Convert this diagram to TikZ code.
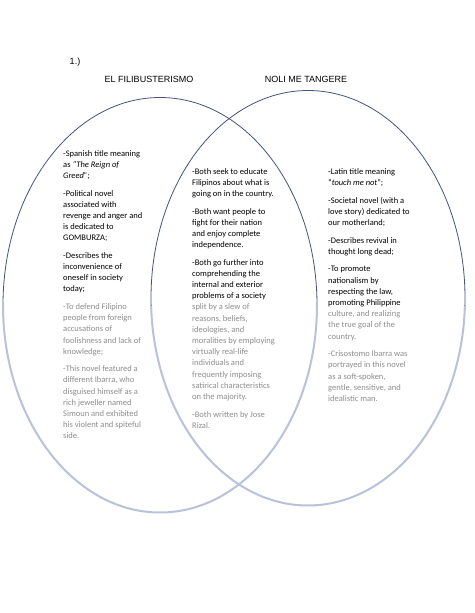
\documentclass[tikz,border=0pt]{standalone}
\usepackage{fontspec}
\setmainfont{Carlito}
\newfontfamily\arialfont{Liberation Sans}
\definecolor{ringdark}{HTML}{46527E}
\definecolor{ringlight}{HTML}{BAC1DA}
\definecolor{blurtext}{HTML}{8E8E8E}
\newcommand{\bl}[1]{\textcolor{blurtext}{#1}}
\begin{document}
\begin{tikzpicture}[x=1pt,y=-1pt,
  coltext/.style={anchor=north west,inner sep=0pt,align=left,font=\fontsize{8.5}{11.2}\selectfont},
  titletext/.style={inner sep=0pt,font=\arialfont\fontsize{9}{11}\selectfont},
  ringtop/.style={draw=ringdark,line width=0.8pt},
  ringbot/.style={draw=ringlight,line width=2pt}]
\useasboundingbox (0,0) rectangle (474,613);
\fill[white] (0,0) rectangle (474,613);
% ellipses
\coordinate (lc) at (160,305);
\coordinate (rc) at (308,298);
\draw[ringbot] ([xshift=-157pt]lc) arc[start angle=180,end angle=360,x radius=157pt,y radius=207.5pt];
\draw[ringbot] ([shift={(182.2:157pt and 207.5pt)}]rc) arc[start angle=182.2,end angle=357.8,x radius=157pt,y radius=207.5pt];
\draw[ringtop] ([xshift=157pt]lc) arc[start angle=0,end angle=180,x radius=157pt,y radius=207.5pt];
\draw[ringtop] ([shift={(-2.2:157pt and 207.5pt)}]rc) arc[start angle=-2.2,end angle=182.2,x radius=157pt,y radius=207.5pt];
% titles
\node[titletext] (num) at (75,62) {1.)};
\node[titletext] (elfili) at (149,79) {EL FILIBUSTERISMO};
\node[titletext] (noli) at (306,79) {NOLI ME TANGERE};
% left column
\node[coltext] (leftcol) at (63,150) {%
-Spanish title meaning\\
as \textit{“The Reign of}\\
\textit{Greed”};\\[6.3pt]
-Political novel\\
associated with\\
revenge and anger and\\
is dedicated to\\
GOMBURZA;\\[6.3pt]
-Describes the\\
inconvenience of\\
oneself in society\\
today;\\[6.3pt]
\bl{-To defend Filipino}\\
\bl{people from foreign}\\
\bl{accusations of}\\
\bl{foolishness and lack of}\\
\bl{knowledge;}\\[6.3pt]
\bl{-This novel featured a}\\
\bl{different Ibarra, who}\\
\bl{disguised himself as a}\\
\bl{rich jeweller named}\\
\bl{Simoun and exhibited}\\
\bl{his violent and spiteful}\\
\bl{side.}};
% middle column
\node[coltext] (midcol) at (192,168) {%
-Both seek to educate\\
Filipinos about what is\\
going on in the country.\\[6.3pt]
-Both want people to\\
fight for their nation\\
and enjoy complete\\
independence.\\[6.3pt]
-Both go further into\\
comprehending the\\
internal and exterior\\
problems of a society\\
\bl{split by a slew of}\\
\bl{reasons, beliefs,}\\
\bl{ideologies, and}\\
\bl{moralities by employing}\\
\bl{virtually real-life}\\
\bl{individuals and}\\
\bl{frequently imposing}\\
\bl{satirical characteristics}\\
\bl{on the majority.}\\[6.3pt]
\bl{-Both written by Jose}\\
\bl{Rizal.}};
% right column
\node[coltext] (rightcol) at (328,168.5) {%
-Latin title meaning\\
“\textit{touch me not}”;\\[6.3pt]
-Societal novel (with a\\
love story) dedicated to\\
our motherland;\\[6.3pt]
-Describes revival in\\
thought long dead;\\[6.3pt]
-To promote\\
nationalism by\\
respecting the law,\\
promoting Philippine\\
\bl{culture, and realizing}\\
\bl{the true goal of the}\\
\bl{country.}\\[6.3pt]
\bl{-Crisostomo Ibarra was}\\
\bl{portrayed in this novel}\\
\bl{as a soft-spoken,}\\
\bl{gentle, sensitive, and}\\
\bl{idealistic man.}};
\end{tikzpicture}
\end{document}
